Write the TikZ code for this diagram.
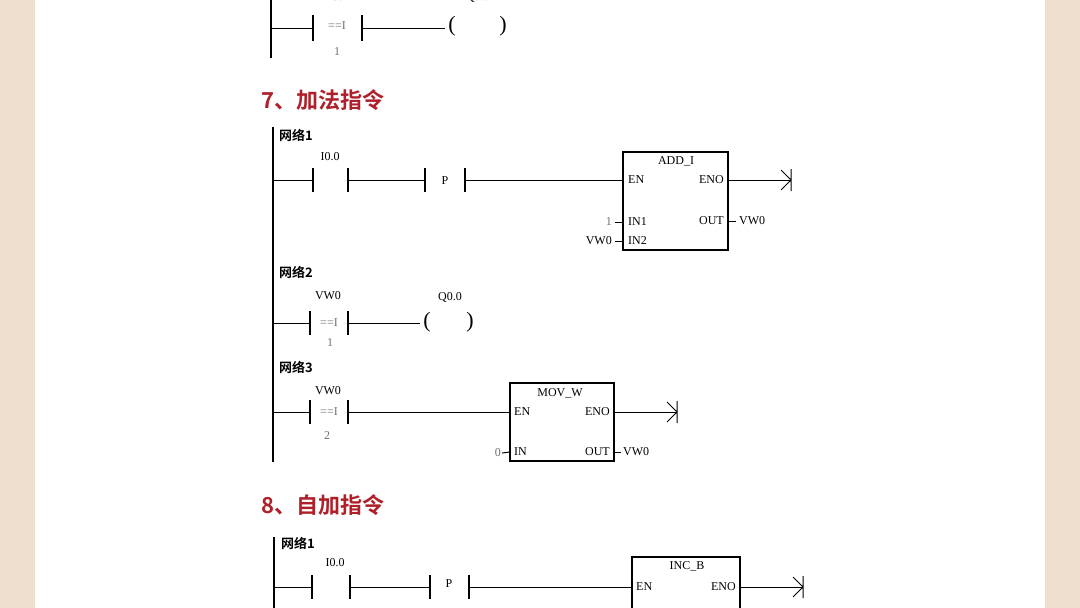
\documentclass[tikz,border=0pt]{standalone}
\usepackage{fontspec}
\usetikzlibrary{calc}
\setmainfont{Liberation Serif}
\newfontfamily\cjk{Noto Sans CJK SC}[BoldFont={Noto Sans CJK SC Bold}]
\definecolor{pagebeige}{HTML}{EFDFCF}
\definecolor{titlered}{HTML}{B0202A}
\definecolor{dimgrey}{HTML}{707070}
\tikzset{
  wire/.style={line width=1pt},
  rail/.style={line width=1.6pt},
  bar/.style={line width=1.6pt},
  lbl/.style={inner sep=0pt,font=\fontsize{12}{14}\selectfont},
  glbl/.style={lbl,text=dimgrey},
  paren/.style={inner sep=0pt,font=\fontsize{22}{22}\selectfont},
  net/.style={inner sep=0pt,anchor=west,font=\cjk\bfseries\fontsize{13}{15}\selectfont},
  head/.style={inner sep=0pt,anchor=west,text=titlered,font=\cjk\bfseries\fontsize{22}{26}\selectfont},
  box/.style={line width=1.2pt}
}
\newcommand{\stoparrow}[1]{\draw[wire] (#1)+(0,-11) -- +(0,11) (#1)+(-10,-10) -- (#1) -- +(-10,10);}
\begin{document}
\begin{tikzpicture}[x=1pt,y=-1pt]
\useasboundingbox (0,0) rectangle (1080,608);
\fill[pagebeige] (0,0) rectangle (1080,608);
\fill[white] (35,0) rectangle (1045,608);
\begin{scope}
\clip (0,0) rectangle (1080,608);

% top network (cut off)
\coordinate (r0t) at (271,0); \coordinate (r0b) at (271,58);
\draw[rail] (r0t) -- (r0b);
\coordinate (c0a) at (313,28); \coordinate (c0b) at (362,28); \coordinate (q0) at (445,28);
\draw[wire] (r0t|-c0a) -- (c0a) (c0b) -- (q0);
\draw[bar] (c0a)+(0,-13) -- +(0,13) (c0b)+(0,-13) -- +(0,13);
\node[glbl] (c0op) at (337,26) {==I};
\node[glbl] (c0k) at (337,52) {1};
\node[lbl] (c0n) at (337,-3) {C0};
\node[lbl] (q0n) at (478,-3) {Q0.0};
\node[paren] (q0l) at (452,26) {(};
\node[paren] (q0r) at (503,26) {)};

% 7
\node[head] (h7) at (261,100) {7、加法指令};
\coordinate (r1t) at (273,127); \coordinate (r1b) at (273,462);
\draw[rail] (r1t) -- (r1b);

% network 1
\node[net] (n11) at (279,135) {网络1};
\coordinate (a1) at (313,180); \coordinate (a2) at (348,180);
\coordinate (p1) at (425,180); \coordinate (p2) at (465,180);
\draw[wire] (r1t|-a1) -- (a1) (a2) -- (p1) (p2) -- (623,180);
\foreach \c in {a1,a2,p1,p2} \draw[bar] (\c)+(0,-12) -- +(0,12);
\node[lbl] (i1) at (330,157) {I0.0};
\node[lbl] (pp1) at (445,181) {P};
\draw[box] (623,152) rectangle (728,250);
\node[lbl] (addn) at (676,161) {ADD\_I};
\node[lbl,anchor=west] (en1) at (628,180) {EN};
\node[lbl,anchor=east] (eno1) at (724,180) {ENO};
\node[lbl,anchor=west] (in1) at (628,222) {IN1};
\node[lbl,anchor=west] (in2) at (628,241) {IN2};
\node[lbl,anchor=east] (out1) at (724,221) {OUT};
\coordinate (t1) at (791,180);
\draw[wire] (728,180) -- (t1); \stoparrow{t1}
\node[glbl,anchor=east] (k1) at (612,222) {1};
\node[lbl,anchor=east] (v1) at (612,241) {VW0};
\node[lbl,anchor=west] (v2) at (739,221) {VW0};
\draw[wire] ($(k1.east)+(3,0)$) -- (623,222);
\draw[wire] ($(v1.east)+(3,0)$) -- (623,241);
\draw[wire] (728,221) -- ($(v2.west)+(-3,0)$);

% network 2
\node[net] (n12) at (279,272) {网络2};
\coordinate (b1) at (310,323); \coordinate (b2) at (348,323); \coordinate (q1) at (420,323);
\draw[wire] (r1t|-b1) -- (b1) (b2) -- (q1);
\foreach \c in {b1,b2} \draw[bar] (\c)+(0,-12) -- +(0,12);
\node[lbl] (v3) at (328,296) {VW0};
\node[glbl] (b3) at (329,323) {==I};
\node[glbl] (b4) at (330,343) {1};
\node[lbl] (q1n) at (450,297) {Q0.0};
\node[paren] (q1l) at (427,322) {(};
\node[paren] (q1r) at (470,322) {)};

% network 3
\node[net] (n13) at (279,367) {网络3};
\coordinate (d1) at (310,412); \coordinate (d2) at (348,412);
\draw[wire] (r1t|-d1) -- (d1) (d2) -- (510,412);
\foreach \c in {d1,d2} \draw[bar] (\c)+(0,-12) -- +(0,12);
\node[lbl] (v4) at (328,391) {VW0};
\node[glbl] (d3) at (329,412) {==I};
\node[glbl] (d4) at (327,436) {2};
\draw[box] (510,383) rectangle (614,461);
\node[lbl] (movn) at (560,393) {MOV\_W};
\node[lbl,anchor=west] (en2) at (514,412) {EN};
\node[lbl,anchor=east] (eno2) at (610,412) {ENO};
\node[lbl,anchor=west] (in3) at (514,452) {IN};
\node[lbl,anchor=east] (out2) at (610,452) {OUT};
\coordinate (t2) at (677,412);
\draw[wire] (614,412) -- (t2); \stoparrow{t2}
\node[glbl,anchor=east] (k2) at (501,453) {0};
\node[lbl,anchor=west] (v5) at (623,452) {VW0};
\draw[wire] ($(k2.east)+(1,0)$) -- (510,452);
\draw[wire] (614,452) -- ($(v5.west)+(-2,0)$);

% 8
\node[head] (h8) at (261,505) {8、自加指令};
\coordinate (r2t) at (274,537); \coordinate (r2b) at (274,620);
\draw[rail] (r2t) -- (r2b);
\node[net] (n21) at (281,543) {网络1};
\coordinate (e1) at (312,587); \coordinate (e2) at (350,587);
\coordinate (e3) at (430,587); \coordinate (e4) at (469,587);
\draw[wire] (r2t|-e1) -- (e1) (e2) -- (e3) (e4) -- (632,587);
\foreach \c in {e1,e2,e3,e4} \draw[bar] (\c)+(0,-12) -- +(0,12);
\node[lbl] (i2) at (335,563) {I0.0};
\node[lbl] (pp2) at (449,584) {P};
\draw[box] (632,620) -- (632,557) -- (740,557) -- (740,620);
\node[lbl] (incn) at (687,566) {INC\_B};
\node[lbl,anchor=west] (en3) at (636,587) {EN};
\node[lbl,anchor=east] (eno3) at (736,587) {ENO};
\coordinate (t3) at (803,587);
\draw[wire] (740,587) -- (t3); \stoparrow{t3}
\end{scope}
\end{tikzpicture}
\end{document}
